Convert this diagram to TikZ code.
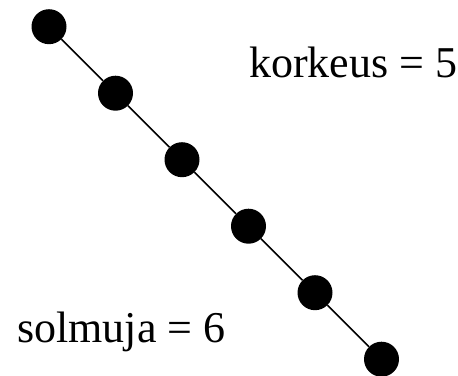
\documentclass[tikz,border=0pt]{standalone}
\usepackage{fontspec}
\setmainfont{Liberation Serif}
\usetikzlibrary{positioning}

\tikzset{
  solmu/.style={circle, fill=black, inner sep=0pt, minimum size=35pt},
  teksti/.style={anchor=base west, inner sep=0pt, font=\fontsize{44}{50}\selectfont}
}

\begin{document}
\begin{tikzpicture}[x=1pt, y=-1pt]
         \useasboundingbox (0,0) rectangle (458,375);
         % solmut
         \foreach \i in {1,...,6} {
           \node[solmu] (n\i) at ({49+66.5*(\i-1)}, {26.7+66.5*(\i-1)}) {};
         }
         % kaaret
         \foreach \i/\j in {1/2, 2/3, 3/4, 4/5, 5/6} {
           \draw[line width=1.5pt] (n\i) -- (n\j);
         }
         % tekstit
         \node[teksti] (korkeus) at (249,77.3) {korkeus = 5};
         \node[teksti] (solmuja) at (17,342) {solmuja = 6};
       \end{tikzpicture}
\end{document}
